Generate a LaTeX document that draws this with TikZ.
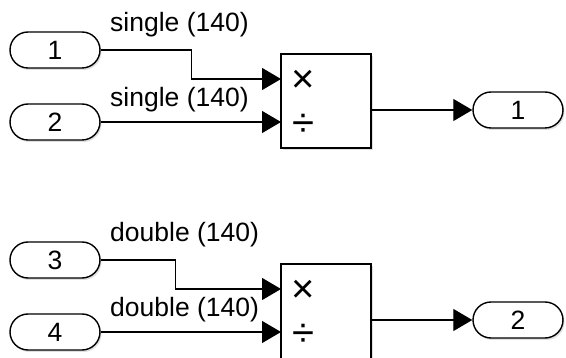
\documentclass[tikz,border=0pt]{standalone}
\usepackage{fontspec}
\setmainfont{Liberation Sans}
\usetikzlibrary{arrows.meta,calc,shadows}
\begin{document}
\begin{tikzpicture}[x=1pt,y=-1pt,
  every node/.style={font=\fontsize{26.5}{30}\selectfont},
  pill/.style={draw,line width=1.4pt,rounded corners=18pt,minimum width=90pt,minimum height=36pt,inner sep=0pt,fill=white,
    drop shadow={opacity=0.25,shadow xshift=1.5pt,shadow yshift=-2pt}},
  blk/.style={draw,line width=1.8pt,minimum width=90pt,minimum height=94pt,inner sep=0pt,fill=white,
    drop shadow={opacity=0.25,shadow xshift=2pt,shadow yshift=-2.5pt}},
  sig/.style={line width=1.2pt,-{Triangle[length=19pt,width=22pt]}},
  lbl/.style={anchor=west,inner sep=0pt},
  sym/.style={inner sep=0pt,font=\fontsize{40}{40}\selectfont}]
\useasboundingbox (0,0) rectangle (566,358);
% top group
\node[pill] (in1) at (55,50) {1};
\node[pill] (in2) at (55,122) {2};
\node[blk] (p1) at (326,101) {};
\node[sym] (m1) at (303,81) {×};
\node[sym] (d1) at (303,125) {÷};
\node[pill] (out1) at (518,110) {1};
\coordinate (p1a) at (281,79);
\coordinate (p1b) at (281,122);
\coordinate (p1o) at (371,110);
\draw[sig] (in1.east) -- ++(91,0) |- (p1a);
\draw[sig] (in2.east) -- (p1b);
\draw[sig] (p1o) -- (out1.west);
\node[lbl] (l1) at (110,25) {single (140)};
\node[lbl] (l2) at (110,100) {single (140)};
% bottom group
\node[pill] (in3) at (55,260) {3};
\node[pill] (in4) at (55,332) {4};
\node[blk,minimum height=96pt] (p2) at (326,312) {};
\node[sym] (m2) at (303,291) {×};
\node[sym] (d2) at (303,335) {÷};
\node[pill] (out2) at (518,320) {2};
\coordinate (p2a) at (281,289);
\coordinate (p2b) at (281,332);
\coordinate (p2o) at (371,320);
\draw[sig] (in3.east) -- ++(75,0) |- (p2a);
\draw[sig] (in4.east) -- (p2b);
\draw[sig] (p2o) -- (out2.west);
\node[lbl] (l3) at (110,235) {double (140)};
\node[lbl] (l4) at (110,310) {double (140)};
\end{tikzpicture}
\end{document}
